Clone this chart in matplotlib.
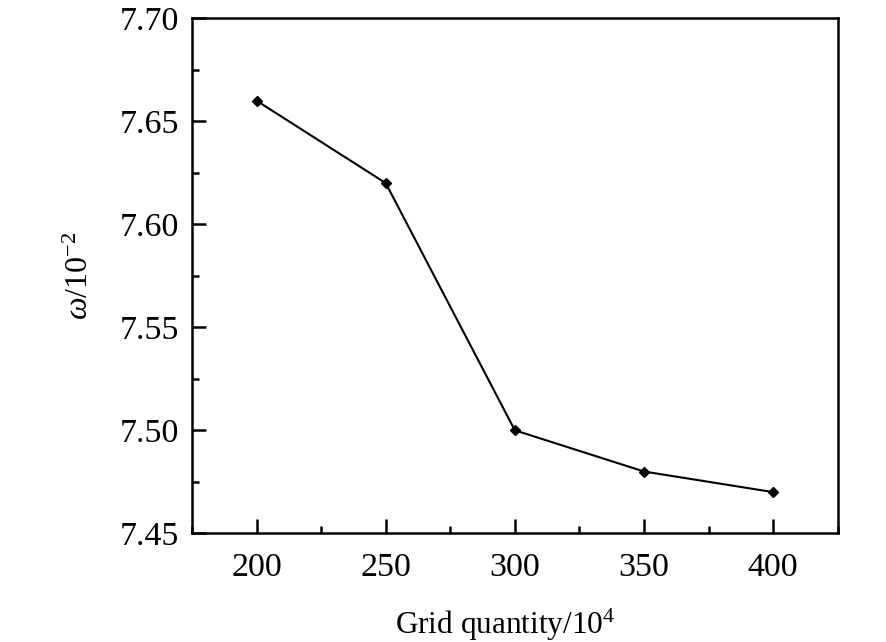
import numpy as np
import matplotlib.pyplot as plt
from matplotlib.ticker import MultipleLocator

grid = [200, 250, 300, 350, 400]
omega = [7.66, 7.62, 7.50, 7.48, 7.47]

plt.rcParams["font.family"] = ["Liberation Serif", "DejaVu Serif"]
plt.rcParams["mathtext.fontset"] = "custom"
plt.rcParams["mathtext.rm"] = "Liberation Serif"
plt.rcParams["mathtext.it"] = "Liberation Serif:italic"

fig = plt.figure(figsize=(8.86, 6.42), dpi=100)
ax = fig.add_axes([0.2167, 0.1693, 0.7288, 0.8022])

ax.plot(grid, omega, color="black", lw=1.5, marker="D", ms=5)

ax.set_xlim(175, 425)
ax.set_ylim(7.45, 7.70)
ax.xaxis.set_major_locator(MultipleLocator(50))
ax.xaxis.set_minor_locator(MultipleLocator(25))
ax.yaxis.set_major_locator(MultipleLocator(0.05))
ax.yaxis.set_minor_locator(MultipleLocator(0.025))
ax.yaxis.set_major_formatter(plt.FormatStrFormatter("%.2f"))

ax.tick_params(which="both", direction="in", top=False, right=False, labelsize=24.5, width=1.8)
ax.tick_params(which="major", length=10)
ax.tick_params(which="minor", length=5)
ax.tick_params(axis="x", which="major", pad=14)
ax.tick_params(axis="y", which="major", pad=9)
for s in ax.spines.values():
    s.set_linewidth(1.8)

ax.set_xlabel("Grid quantity/10$^4$", fontsize=22.5)
ax.xaxis.set_label_coords(0.485, -0.142)
ax.set_ylabel("$\\mathit{\\omega}$/10$^{-2}$", fontsize=23, labelpad=18)

fig.savefig("out.png", dpi=100)
